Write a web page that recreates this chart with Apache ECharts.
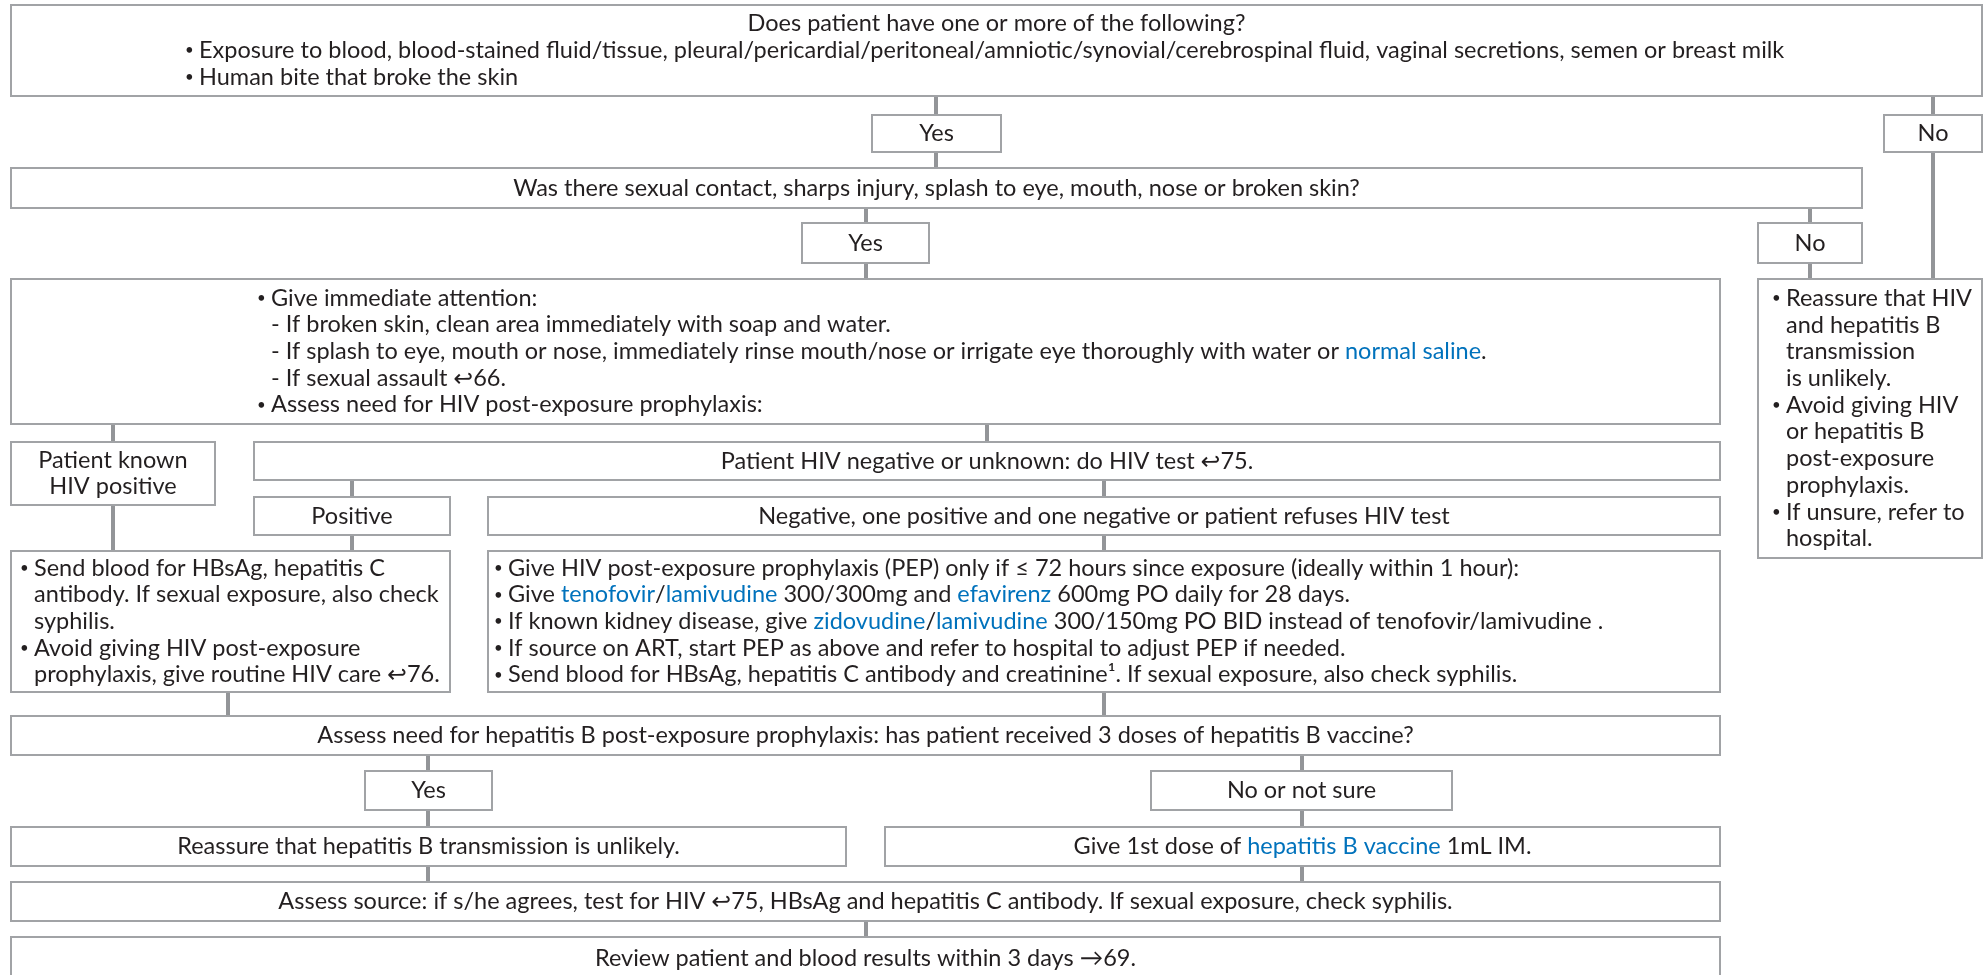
<!DOCTYPE html>
<html>
<head>
<meta charset="utf-8">
<script src="https://cdn.jsdelivr.net/npm/echarts@6/dist/echarts.min.js"></script>
<style>
  html, body { margin: 0; padding: 0; background: #fff; }
  #chart { width: 1986px; height: 975px; }
</style>
</head>
<body>
<div id="chart"></div>
<script>
// flowchart drawn on a hidden 1986 x 975 value grid (y runs downwards)
const boxes = [
  [11, 5, 1982, 96],      // 0 question 1
  [872, 115, 1001, 152],  // 1 yes
  [1884, 115, 1982, 152], // 2 no
  [11, 168, 1862, 208],   // 3 question 2
  [802, 223, 929, 263],   // 4 yes
  [1758, 223, 1862, 263], // 5 no
  [11, 279, 1720, 424],   // 6 immediate attention
  [1758, 279, 1982, 558], // 7 reassure
  [11, 442, 215, 505],    // 8 known positive
  [254, 442, 1720, 480],  // 9 negative or unknown
  [254, 497, 450, 535],   // 10 positive
  [488, 497, 1720, 535],  // 11 negative
  [11, 551, 450, 692],    // 12 send blood
  [488, 551, 1720, 692],  // 13 PEP
  [11, 716, 1720, 755],   // 14 hep B question
  [365, 771, 492, 810],   // 15 yes
  [1151, 771, 1452, 810], // 16 no or not sure
  [11, 827, 846, 866],    // 17 reassure hep B
  [885, 827, 1720, 866],  // 18 1st dose
  [11, 882, 1720, 921],   // 19 assess source
  [11, 937, 1720, 980]    // 20 review
];

// left edge of the text (bullet position); null = centred
const boxTextX = [185, null, null, null, null, null, 257, 1772, null, null, null, null, 20, 494,
  null, null, null, null, null, null, null];

const boxLines = [
  ['^Does patient have one or more of the following?',
   '• Exposure to blood, blood-stained fluid/tissue, pleural/pericardial/peritoneal/amniotic/synovial/cerebrospinal fluid, vaginal secretions, semen or breast milk',
   '• Human bite that broke the skin'],
  ['Yes'],
  ['No'],
  ['Was there sexual contact, sharps injury, splash to eye, mouth, nose or broken skin?'],
  ['Yes'],
  ['No'],
  ['• Give immediate attention:',
   '- If broken skin, clean area immediately with soap and water.',
   '- If splash to eye, mouth or nose, immediately rinse mouth/nose or irrigate eye thoroughly with water or {b|normal saline}.',
   '- If sexual assault \u21A966.',
   '• Assess need for HIV post-exposure prophylaxis:'],
  ['• Reassure that HIV', 'and hepatitis B', 'transmission', 'is unlikely.',
   '• Avoid giving HIV', 'or hepatitis B', 'post-exposure', 'prophylaxis.',
   '• If unsure, refer to', 'hospital.'],
  ['Patient known', 'HIV positive'],
  ['Patient HIV negative or unknown: do HIV test \u21A975.'],
  ['Positive'],
  ['Negative, one positive and one negative or patient refuses HIV test'],
  ['• Send blood for HBsAg, hepatitis C', 'antibody. If sexual exposure, also check', 'syphilis.',
   '• Avoid giving HIV post-exposure', 'prophylaxis, give routine HIV care \u21A976.'],
  ['• Give HIV post-exposure prophylaxis (PEP) only if \u2264 72 hours since exposure (ideally within 1 hour):',
   '• Give {b|tenofovir}/{b|lamivudine} 300/300mg and {b|efavirenz} 600mg PO daily for 28 days.',
   '• If known kidney disease, give {b|zidovudine}/{b|lamivudine} 300/150mg PO BID instead of tenofovir/lamivudine .',
   '• If source on ART, start PEP as above and refer to hospital to adjust PEP if needed.',
   '• Send blood for HBsAg, hepatitis C antibody and creatinine\u00B9. If sexual exposure, also check syphilis.'],
  ['Assess need for hepatitis B post-exposure prophylaxis: has patient received 3 doses of hepatitis B vaccine?'],
  ['Yes'],
  ['No or not sure'],
  ['Reassure that hepatitis B transmission is unlikely.'],
  ['Give 1st dose of {b|hepatitis B vaccine} 1mL IM.'],
  ['Assess source: if s/he agrees, test for HIV \u21A975, HBsAg and hepatitis C antibody. If sexual exposure, check syphilis.'],
  ['Review patient and blood results within 3 days \u219269.']
];

// vertical connectors: x, top, bottom
const connectors = [
  [936, 96, 115], [936, 152, 168],
  [1933, 96, 115], [1933, 152, 279],
  [866, 208, 223], [866, 263, 279],
  [1810, 208, 223], [1810, 263, 279],
  [113, 424, 442], [987, 424, 442],
  [352, 480, 497], [1104, 480, 497],
  [113, 505, 551], [352, 535, 551], [1104, 535, 551],
  [228, 692, 716], [1104, 692, 716],
  [428, 755, 771], [1302, 755, 771],
  [428, 810, 827], [1302, 810, 827],
  [428, 866, 882], [1302, 866, 882],
  [866, 921, 937]
];

const FONT = 'Lato, "DejaVu Sans", sans-serif';
const FS = 23.5;
const LH = 26.7;
const INDENT = 14;
const TXT = '#231f20';
const BLUE = '#0072bc';

const chart = echarts.init(document.getElementById('chart'));

function textEl(x, y, str, align, size) {
  const fs = size || FS;
  return {
    type: 'text',
    x: x,
    y: y,
    style: {
      text: str,
      fill: TXT,
      fontSize: fs,
      fontFamily: FONT,
      align: align,
      verticalAlign: 'middle',
      rich: {
        b: { fill: BLUE, fontSize: fs, fontFamily: FONT }
      }
    }
  };
}

const option = {
  animation: false,
  grid: { left: 0, right: 0, top: 0, bottom: 0 },
  xAxis: { type: 'value', min: 0, max: 1986, show: false },
  yAxis: { type: 'value', min: 0, max: 975, inverse: true, show: false },
  series: [
    {
      type: 'custom',
      data: connectors,
      renderItem: function (params, api) {
        const a = api.coord([api.value(0), api.value(1)]);
        const b = api.coord([api.value(0), api.value(2)]);
        return {
          type: 'line',
          shape: { x1: a[0], y1: a[1], x2: b[0], y2: b[1] },
          style: { stroke: '#939598', lineWidth: 4 }
        };
      }
    },
    {
      type: 'custom',
      data: boxes,
      renderItem: function (params, api) {
        const i = params.dataIndex;
        const p0 = api.coord([api.value(0), api.value(1)]);
        const p1 = api.coord([api.value(2), api.value(3)]);
        const children = [{
          type: 'rect',
          shape: { x: p0[0], y: p0[1], width: p1[0] - p0[0], height: p1[1] - p0[1] },
          style: { fill: '#fff', stroke: '#a1a3a6', lineWidth: 2 }
        }];
        const lines = boxLines[i];
        const n = lines.length;
        const bottom = Math.min(p1[1], api.coord([0, 975])[1] + 5);
        const cy = (p0[1] + bottom) / 2;
        const cx = (p0[0] + p1[0]) / 2;
        const tx = boxTextX[i];
        lines.forEach(function (line, k) {
          const y = cy + (k - (n - 1) / 2) * LH;
          if (tx === null) {
            children.push(textEl(cx, y, line, 'center'));
          } else if (line.charAt(0) === '^') {
            children.push(textEl(cx, y, line.slice(1), 'center'));
          } else {
            const lx = api.coord([tx, 0])[0];
            if (line.indexOf('• ') === 0) {
              children.push(textEl(lx, y, '•', 'left', 15));
              line = line.slice(2);
            }
            children.push(textEl(lx + INDENT, y, line, 'left'));
          }
        });
        return { type: 'group', children: children };
      }
    }
  ]
};

chart.setOption(option);
</script>
</body>
</html>
